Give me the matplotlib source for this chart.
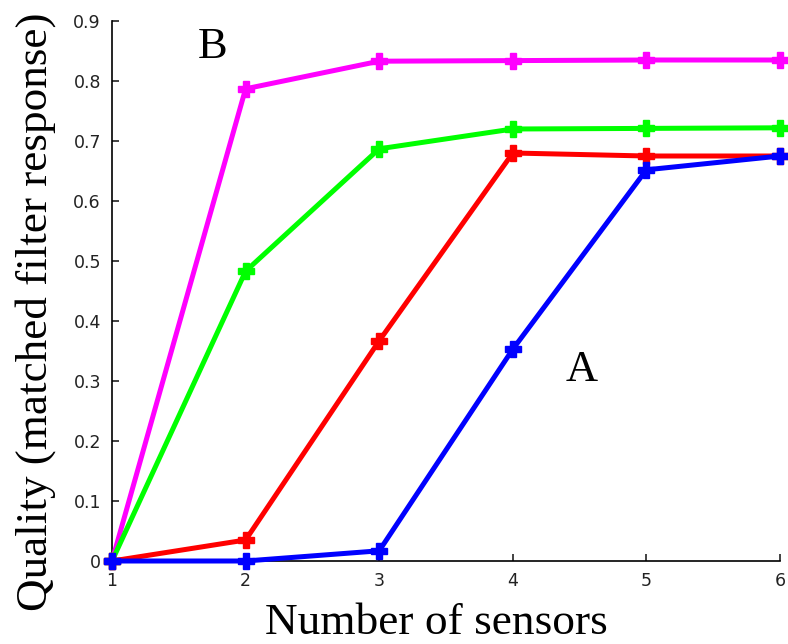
import matplotlib
matplotlib.use("Agg")
import matplotlib.pyplot as plt

sensors = [1, 2, 3, 4, 5, 6]
quality_magenta = [0.0, 0.787, 0.833, 0.834, 0.835, 0.835]
quality_green = [0.0, 0.483, 0.687, 0.720, 0.721, 0.722]
quality_red = [0.0, 0.035, 0.367, 0.680, 0.675, 0.675]
quality_blue = [0.0, 0.0, 0.017, 0.353, 0.652, 0.675]
y_ticks = [0, 0.1, 0.2, 0.3, 0.4, 0.5, 0.6, 0.7, 0.8, 0.9]
y_tick_labels = ["0", "0.1", "0.2", "0.3", "0.4", "0.5", "0.6", "0.7", "0.8", "0.9"]

W, H = 788, 644
fig = plt.figure(figsize=(W / 100, H / 100), dpi=100)
ax = fig.add_axes([112 / W, 1 - 561 / H, (780 - 112) / W, (561 - 21) / H])

series = [
    (quality_magenta, "#ff00ff"),
    (quality_green, "#00ff00"),
    (quality_red, "#ff0000"),
    (quality_blue, "#0000ff"),
]
for vals, col in series:
    ax.plot(sensors, vals, color=col, lw=3.6, marker="P", ms=11,
            mec=col, mfc=col, clip_on=False, zorder=3)

ax.set_xlim(1, 6)
ax.set_ylim(0, 0.9)
ax.set_xticks(sensors)
ax.set_yticks(y_ticks)
ax.set_yticklabels(y_tick_labels)
for s in ("top", "right"):
    ax.spines[s].set_visible(False)
for s in ("left", "bottom"):
    ax.spines[s].set_linewidth(1.2)
ax.tick_params(direction="in", length=5, width=1.2, labelsize=12.5,
               colors="#222222", pad=8)

serif = ["Liberation Serif", "DejaVu Serif"]
fig.text(213 / W, 1 - 47 / H, "B", family=serif, fontsize=32,
         ha="center", va="center")
fig.text(582 / W, 1 - 370 / H, "A", family=serif, fontsize=32,
         ha="center", va="center")
fig.text(436 / W, 1 - 634 / H, "Number of sensors", family=serif,
         fontsize=32.7, ha="center", va="baseline")
fig.text(36 / W, 1 - 312 / H, "Quality (matched filter response)",
         family=serif, fontsize=32.5, rotation=90, ha="center", va="center")

fig.savefig("out.png", dpi=100)
